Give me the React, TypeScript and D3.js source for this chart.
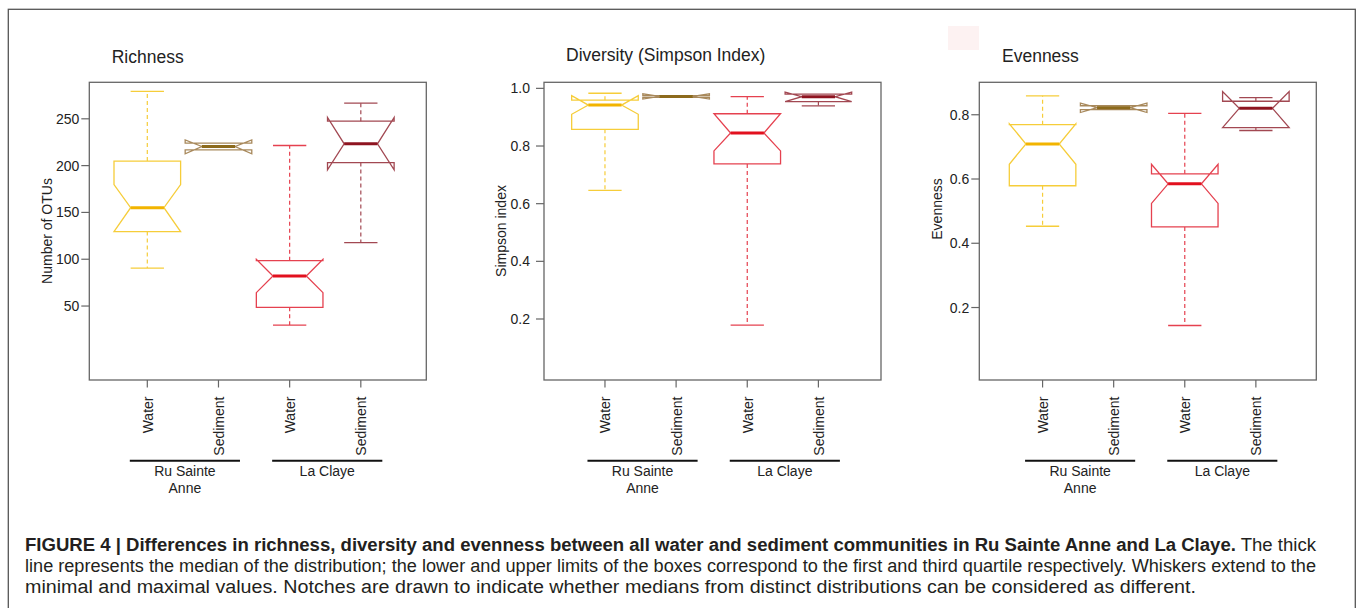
import React from "react";
import * as d3 from "d3";

// ---------- data ----------
const categories = ["Water", "Sediment", "Water", "Sediment"];
const sites = [["Ru Sainte", "Anne"], ["La Claye"]];
const boxColors = ["#F6CD3A", "#A8895C", "#E5414F", "#A24852"];
const medianColors = ["#F2B400", "#8C6A1C", "#E2101E", "#8E1420"];

// each entry: [whiskerLo, q1, notchLo, median, notchHi, q3, whiskerHi]
const richness = [
  [90.6, 129.5, 129.5, 155.1, 179.7, 204.8, 279.2],
  [216.8, 216.8, 212.6, 220.4, 227.5, 224.0, 224.0],
  [29.7, 48.6, 64.3, 82.1, 100.0, 98.5, 221.5],
  [117.7, 203.3, 195.5, 223.3, 251.4, 247.5, 266.8],
];
const simpson = [
  [0.646, 0.858, 0.91, 0.942, 0.975, 0.959, 0.983],
  [0.969, 0.969, 0.963, 0.972, 0.981, 0.975, 0.975],
  [0.179, 0.738, 0.783, 0.845, 0.912, 0.912, 0.971],
  [0.939, 0.954, 0.954, 0.971, 0.987, 0.98, 0.98],
];
const evenness = [
  [0.453, 0.579, 0.646, 0.709, 0.772, 0.769, 0.859],
  [0.816, 0.816, 0.807, 0.822, 0.836, 0.828, 0.828],
  [0.144, 0.451, 0.524, 0.585, 0.646, 0.616, 0.804],
  [0.751, 0.76, 0.76, 0.82, 0.872, 0.842, 0.853],
];
const richnessTicks = [50, 100, 150, 200, 250];
const simpsonTicks = [0.2, 0.4, 0.6, 0.8, 1.0];
const evennessTicks = [0.2, 0.4, 0.6, 0.8];

const panels = [
  {
    title: "Richness", ylab: "Number of OTUs", data: richness, ticks: richnessTicks,
    ydom: [-29, 289], xdom: [0.185, 4.92], fmt: (v: number) => String(v),
    left: 89.3, titleX: 111.7, titleY: 63, ylabX: 52, ylabY: 231, labGap: 10,
  },
  {
    title: "Diversity (Simpson Index)", ylab: "Simpson index", data: simpson, ticks: simpsonTicks,
    ydom: [-0.0116, 1.021], xdom: [0.143, 4.88], fmt: (v: number) => v.toFixed(1),
    left: 544, titleX: 566, titleY: 61, ylabX: 506, ylabY: 231, labGap: 14,
  },
  {
    title: "Evenness", ylab: "Evenness", data: evenness, ticks: evennessTicks,
    ydom: [-0.0256, 0.901], xdom: [0.11, 4.85], fmt: (v: number) => v.toFixed(1),
    left: 979.3, titleX: 1002, titleY: 62, ylabX: 942, ylabY: 209, labGap: 10,
  },
];

const captionBold =
  "FIGURE 4 | Differences in richness, diversity and evenness between all water and sediment communities in Ru Sainte Anne and La Claye.";
const captionLines = [
  " The thick",
  "line represents the median of the distribution; the lower and upper limits of the boxes correspond to the first and third quartile respectively. Whiskers extend to the",
  "minimal and maximal values. Notches are drawn to indicate whether medians from distinct distributions can be considered as different.",
];

const FONT = "'Liberation Sans', Arial, Helvetica, sans-serif";
const PW = 337;
const TOP = 82.3;
const BOTTOM = 380;

function Panel({ p }: { p: (typeof panels)[number] }) {
  const x = d3.scaleLinear().domain(p.xdom).range([p.left, p.left + PW]);
  const y = d3.scaleLinear().domain(p.ydom).range([BOTTOM, TOP]);
  const hw = x(1.468) - x(1);
  const line = d3.line<[number, number]>();
  return (
    <g>
      <text x={p.titleX} y={p.titleY} fontSize={17.5} fontFamily={FONT} fill="#222">
        {p.title}
      </text>
      <rect x={p.left} y={TOP} width={PW} height={BOTTOM - TOP} fill="none" stroke="#666" strokeWidth={1.3} />
      {p.ticks.map((t) => (
        <g key={t}>
          <line x1={p.left - 8} x2={p.left} y1={y(t)} y2={y(t)} stroke="#666" strokeWidth={1.2} />
          <text x={p.left - p.labGap} y={y(t) + 5} textAnchor="end" fontSize={14} fontFamily={FONT} fill="#222">
            {p.fmt(t)}
          </text>
        </g>
      ))}
      <text
        transform={`translate(${p.ylabX},${p.ylabY}) rotate(-90)`}
        textAnchor="middle"
        fontSize={14}
        fontFamily={FONT}
        fill="#222"
      >
        {p.ylab}
      </text>
      {p.data.map((d, i) => {
        const cx = x(i + 1);
        const [wlo, q1, nlo, med, nhi, q3, whi] = d;
        const poly: [number, number][] = [
          [cx - hw, y(q1)], [cx - hw, y(nlo)], [cx - hw / 2, y(med)], [cx - hw, y(nhi)], [cx - hw, y(q3)],
          [cx + hw, y(q3)], [cx + hw, y(nhi)], [cx + hw / 2, y(med)], [cx + hw, y(nlo)], [cx + hw, y(q1)],
        ];
        const c = boxColors[i];
        return (
          <g key={i}>
            {whi > q3 && (
              <>
                <line x1={cx} x2={cx} y1={y(q3)} y2={y(whi)} stroke={c} strokeWidth={1.2} strokeDasharray="4,3" />
                <line x1={cx - hw / 2} x2={cx + hw / 2} y1={y(whi)} y2={y(whi)} stroke={c} strokeWidth={1.3} />
              </>
            )}
            {wlo < q1 && (
              <>
                <line x1={cx} x2={cx} y1={y(q1)} y2={y(wlo)} stroke={c} strokeWidth={1.2} strokeDasharray="4,3" />
                <line x1={cx - hw / 2} x2={cx + hw / 2} y1={y(wlo)} y2={y(wlo)} stroke={c} strokeWidth={1.3} />
              </>
            )}
            <path d={line(poly) + "Z"} fill="none" stroke={c} strokeWidth={1.3} strokeLinejoin="miter" />
            <line x1={cx - hw / 2} x2={cx + hw / 2} y1={y(med)} y2={y(med)} stroke={medianColors[i]} strokeWidth={3} />
            <line x1={cx} x2={cx} y1={BOTTOM} y2={BOTTOM + 7.5} stroke="#666" strokeWidth={1.2} />
            <text
              transform={`translate(${cx + 5.5},396.5) rotate(-90)`}
              textAnchor="end"
              fontSize={14}
              fontFamily={FONT}
              fill="#222"
            >
              {categories[i]}
            </text>
          </g>
        );
      })}
      {sites.map((s, k) => {
        const x1 = x(2 * k + 1) - 17.5;
        const x2 = x(2 * k + 2) + 21.5;
        const mid = (x1 + x2) / 2;
        return (
          <g key={k}>
            <line x1={x1} x2={x2} y1={460.7} y2={460.7} stroke="#111" strokeWidth={2} />
            {s.map((t, j) => (
              <text key={j} x={mid} y={476 + j * 17} textAnchor="middle" fontSize={14} fontFamily={FONT} fill="#222">
                {t}
              </text>
            ))}
          </g>
        );
      })}
    </g>
  );
}

export default function App() {
  return (
    <svg
      width={1358}
      height={608}
      style={{ position: "absolute", left: 0, top: 0, background: "#fff" }}
      xmlns="http://www.w3.org/2000/svg"
    >
      <rect x={0} y={0} width={1358} height={608} fill="#fff" />
      <rect x={8.3} y={9.3} width={1347} height={620} fill="none" stroke="#555" strokeWidth={1.3} />
      <rect x={948} y={26} width={31} height={24} fill="#fdf2f2" />
      {panels.map((p) => (
        <Panel key={p.title} p={p} />
      ))}
      <text x={25} y={551} fontSize={18} fontFamily={FONT} fill="#231f20" textLength={1291} lengthAdjust="spacingAndGlyphs">
        <tspan fontWeight="bold">{captionBold}</tspan>
        <tspan>{captionLines[0]}</tspan>
      </text>
      <text x={25} y={572} fontSize={18} fontFamily={FONT} fill="#231f20" textLength={1291} lengthAdjust="spacingAndGlyphs">
        {captionLines[1]}
      </text>
      <text x={25} y={593} fontSize={18} fontFamily={FONT} fill="#231f20" textLength={1171} lengthAdjust="spacingAndGlyphs">
        {captionLines[2]}
      </text>
    </svg>
  );
}
